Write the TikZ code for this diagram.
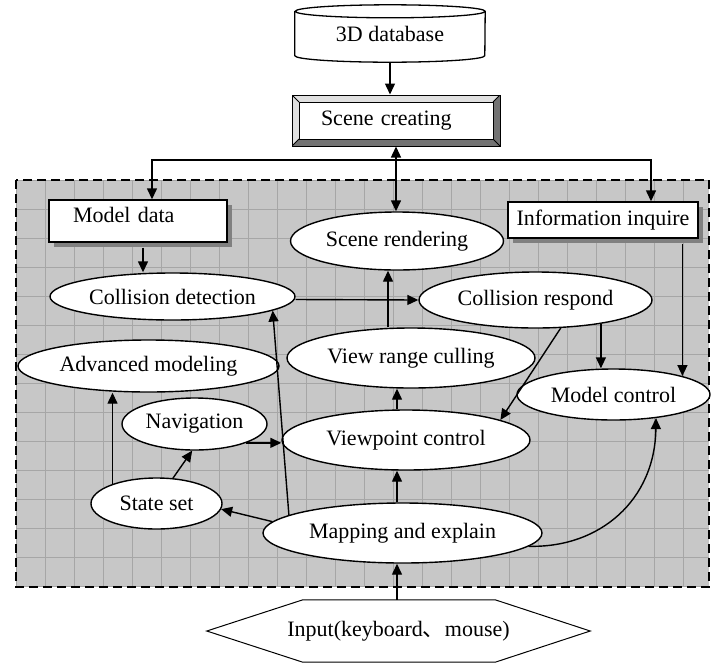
\documentclass[tikz,border=0pt]{standalone}
\usepackage{fontspec}
\setmainfont{Liberation Serif}
\newfontfamily\cjkfont{Noto Sans CJK SC}
\usetikzlibrary{arrows.meta,calc,positioning,shapes.geometric,shadows}

\begin{document}
\begin{tikzpicture}[
  x=1pt, y=-1pt,
  font=\fontsize{22}{24}\selectfont,
  proc/.style={ellipse, draw, fill=white, line width=1.4pt, inner sep=0pt},
  store/.style={draw, fill=white, line width=1.4pt, inner sep=0pt,
    drop shadow={shadow xshift=5pt, shadow yshift=-5pt, fill=black!50, opacity=1}},
  bevel/.style={draw, line width=1pt, inner sep=0pt, path picture={
    \fill[black!12] (path picture bounding box.south west) rectangle (path picture bounding box.north east);
    \fill[black!55] (path picture bounding box.south west) -- ++(7pt,7pt)
      -- ([shift={(-7pt,7pt)}]path picture bounding box.south east)
      -- ([shift={(-7pt,-7pt)}]path picture bounding box.north east)
      -- (path picture bounding box.north east) -- (path picture bounding box.south east) -- cycle;
    \draw[fill=white, line width=0.8pt] ([shift={(7pt,-7pt)}]path picture bounding box.north west)
      rectangle ([shift={(-7pt,7pt)}]path picture bounding box.south east);
    \draw[line width=0.8pt] (path picture bounding box.north west) -- ++(7pt,-7pt)
      (path picture bounding box.south west) -- ++(7pt,7pt)
      (path picture bounding box.north east) -- ++(-7pt,-7pt)
      (path picture bounding box.south east) -- ++(-7pt,7pt);}},
  flow/.style={-{Triangle[length=11pt,width=10pt]}, line width=1.4pt},
  sync/.style={{Triangle[length=11pt,width=10pt]}-{Triangle[length=11pt,width=10pt]}, line width=1.4pt}
]
  \useasboundingbox (0,0) rectangle (720,665);

  \fill[black!22] (16,180) rectangle (709,587);
  \begin{scope}[shift={(16,180)}]
    \draw[black!35, line width=0.6pt, step=29pt] (0,0) grid (693,407);
  \end{scope}
  \draw[line width=2pt, dash pattern=on 9pt off 5pt] (16,180) rectangle (709,587);

  \node (db) at (390,33.5) [minimum width=190pt, minimum height=57pt, inner sep=0pt] {3D database};
  \draw[line width=1.3pt] ([yshift=-6.5pt]db.north west) -- ([yshift=6.5pt]db.south west)
    arc[start angle=180, end angle=360, x radius=95pt, y radius=6.5pt]
    -- ([yshift=-6.5pt]db.north east)
    arc[start angle=0, end angle=360, x radius=95pt, y radius=6.5pt];

  \node[bevel, minimum width=208pt, minimum height=51pt, text width=150pt, align=left] (sc) at (396,120.5) {Scene creating};
  \coordinate (split) at (396,160);

  \node[store, minimum width=178pt, minimum height=42pt, text width=130pt, align=left, text depth=12pt] (md) at (138,221) {Model data};
  \node[store, minimum width=190pt, minimum height=36pt] (ii) at (603,220) {Information inquire};

  \node[proc, minimum width=213pt, minimum height=58pt] (sr) at (397,241) {Scene rendering};
  \node[proc, minimum width=245pt, minimum height=47pt] (cd) at (172.5,296.5) {Collision detection};
  \node[proc, minimum width=233pt, minimum height=56pt] (cr) at (535.5,300) {Collision respond};
  \node[proc, minimum width=261pt, minimum height=52pt] (am) at (148.5,366) {Advanced modeling};
  \node[proc, minimum width=248pt, minimum height=60pt] (vr) at (411,358) {View range culling};
  \node[proc, minimum width=193pt, minimum height=51pt] (mc) at (613.5,394.5) {Model control};
  \node[proc, minimum width=145pt, minimum height=52pt] (nav) at (194.5,424) {Navigation};
  \node[proc, minimum width=248pt, minimum height=60pt] (vp) at (406,440) {Viewpoint control};
  \node[proc, minimum width=131pt, minimum height=51pt] (ss) at (156.5,503.5) {State set};
  \node[proc, minimum width=279pt, minimum height=60pt] (me) at (402.5,533) {Mapping and explain};

  \node (in) at (398.5,631) [minimum width=383pt, minimum height=62pt, inner sep=0pt] {Input(keyboard{\cjkfont 、}mouse)};
  \draw[line width=1pt] (in.west) -- ([xshift=96pt]in.north west) -- ([xshift=-95pt]in.north east)
    -- (in.east) -- ([xshift=-95pt]in.south east) -- ([xshift=96pt]in.south west) -- cycle;

  \draw[flow] (db.south) -- (db.south |- sc.north);
  \draw[sync] (sc.south) -- (sc.south |- sr.north);
  \draw[flow] (split) -| ([xshift=14pt]md.north);
  \draw[flow] (split) -| ([xshift=48pt]ii.north);
  \draw[flow] ([shift={(5pt,-5pt)}]md.south) -- ([xshift=5pt]md.south |- cd.north);
  \draw[flow] ($(mc.15.6 |- ii.south)+(0,-5pt)$) -- (mc.15.6);
  \draw[flow] ([yshift=-3pt]cd.east) -- (cr.west);
  \draw[flow] ([xshift=-23pt]vr.north) -- ([xshift=-23pt]vr.north |- sr.south);
  \draw[flow] ([xshift=-9pt]vp.north) -- ([xshift=-9pt]vp.north |- vr.south);
  \draw[flow] ([xshift=-5.5pt]me.north) -- ([xshift=-5.5pt]me.north |- vp.south);
  \draw[flow] ([xshift=-1.5pt]in.north) -- ([xshift=-1.5pt]in.north |- me.south);
  \draw[flow] (cr.-20.5) -- (cr.-20.5 |- mc.north);
  \draw[flow] (cr.-48) -- (vp.12.6);
  \draw[flow] (nav.-20) -- (nav.-20 -| vp.west);
  \draw[flow] (ss.57) -- (nav.-95);
  \draw[flow] (ss.156) -- (ss.156 |- am.south);
  \draw[flow] (me.175) -- (ss.-5);
  \draw[flow] (me.171) -- (cd.-8);
  \draw[flow] (me.-6) .. controls (600,548) and (655,500) .. (mc.-29);
\end{tikzpicture}
\end{document}
